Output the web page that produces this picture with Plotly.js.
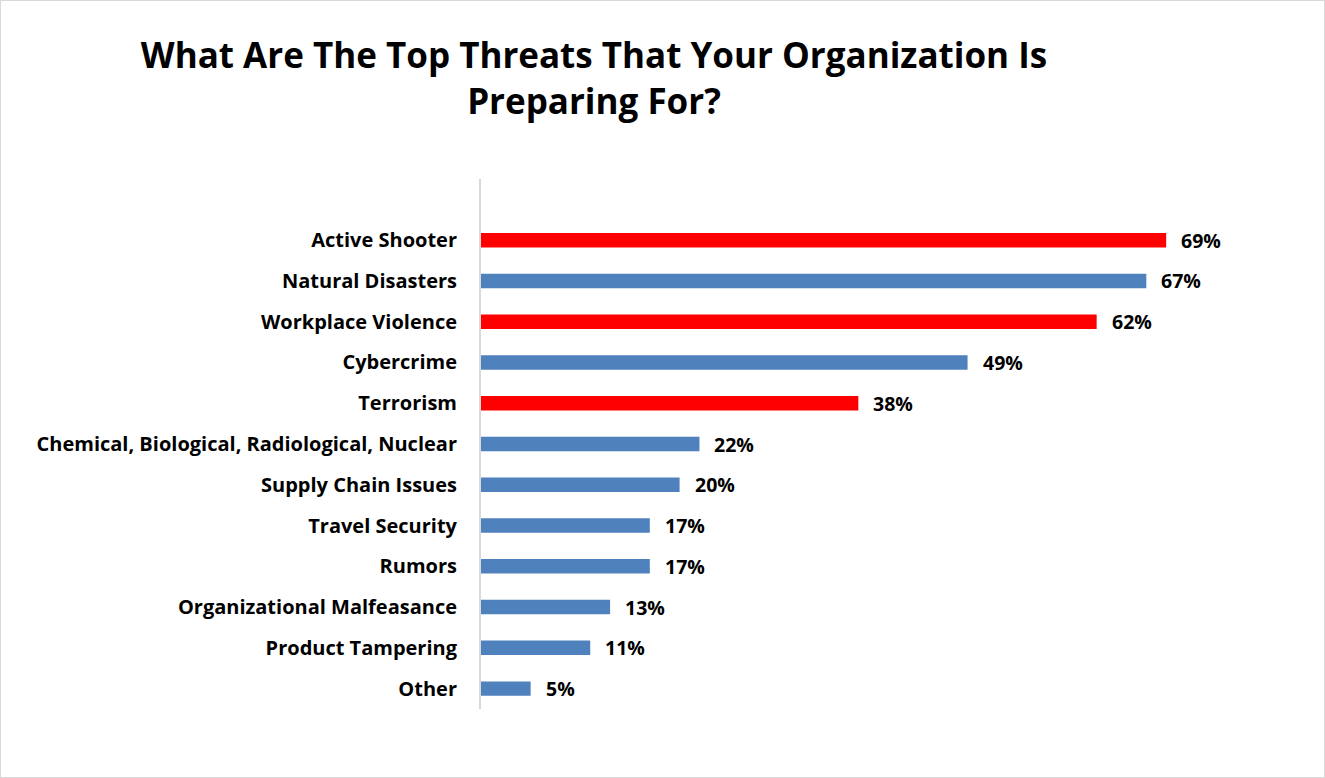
<!DOCTYPE html>
<html>
<head>
<meta charset="utf-8">
<script src="https://cdn.plot.ly/plotly-3.0.1.min.js"></script>
<style>
  html, body { margin: 0; padding: 0; background: #fff; }
  #chart { width: 1323px; height: 776px; border: 1px solid #d9d9d9; }
</style>
</head>
<body>
<div id="chart"></div>
<script>
const categories = [
  "Active Shooter",
  "Natural Disasters",
  "Workplace Violence",
  "Cybercrime",
  "Terrorism",
  "Chemical, Biological, Radiological, Nuclear",
  "Supply Chain Issues",
  "Travel Security",
  "Rumors",
  "Organizational Malfeasance",
  "Product Tampering",
  "Other"
];
const values = [69, 67, 62, 49, 38, 22, 20, 17, 17, 13, 11, 5];
const highlighted = [true, false, true, false, true, false, false, false, false, false, false, false];
const labels = values.map(v => v + "%");

const RED = "#FF0000", BLUE = "#4F81BD";
const FONT = "'Open Sans', 'Liberation Sans', sans-serif";

// reverse so first category is on top
const cats = categories.slice().reverse();
const vals = values.slice().reverse();
const cols = highlighted.slice().reverse().map(h => h ? RED : BLUE);
const labs = labels.slice().reverse();

const trace = {
  type: "bar",
  orientation: "h",
  y: cats,
  x: vals,
  marker: { color: cols, line: { width: 0 } },
  hoverinfo: "skip"
};

const annotations = cats.map((c, i) => ({
  x: vals[i], y: c, xref: "x", yref: "y",
  text: labs[i], showarrow: false, xanchor: "left", xshift: 13,
  font: { family: FONT, size: 19.5, color: "#000", weight: 700 }
}));

const plotW = 1245 - 481;
const layout = {
  width: 1323, height: 776,
  margin: { l: 480, r: 1323 - 1245 + 1, t: 178, b: 776 - 708 },
  paper_bgcolor: "#fff", plot_bgcolor: "#fff",
  showlegend: false,
  bargap: 0.645,
  title: {
    text: "<b>What Are The Top Threats That Your Organization Is<br>Preparing For?</b>",
    x: 593 / 1323, xref: "container", xanchor: "center",
    y: 1 - 67 / 776, yref: "container", yanchor: "top",
    font: { family: FONT, size: 35, color: "#000" }
  },
  xaxis: {
    range: [0, plotW / 9.93],
    showgrid: false, zeroline: false, showline: false,
    showticklabels: false, ticks: "", fixedrange: true
  },
  yaxis: {
    type: "category",
    categoryorder: "array", categoryarray: cats,
    range: [-0.5, 12.5],
    showgrid: false, zeroline: false,
    showline: true, linecolor: "#d9d9d9", linewidth: 2,
    ticks: "", ticklabelstandoff: 18,
    tickfont: { family: FONT, size: 20, color: "#000", weight: 700 }
  },
  annotations: annotations
};

Plotly.newPlot("chart", [trace], layout, { displayModeBar: false, staticPlot: true });
</script>
</body>
</html>
